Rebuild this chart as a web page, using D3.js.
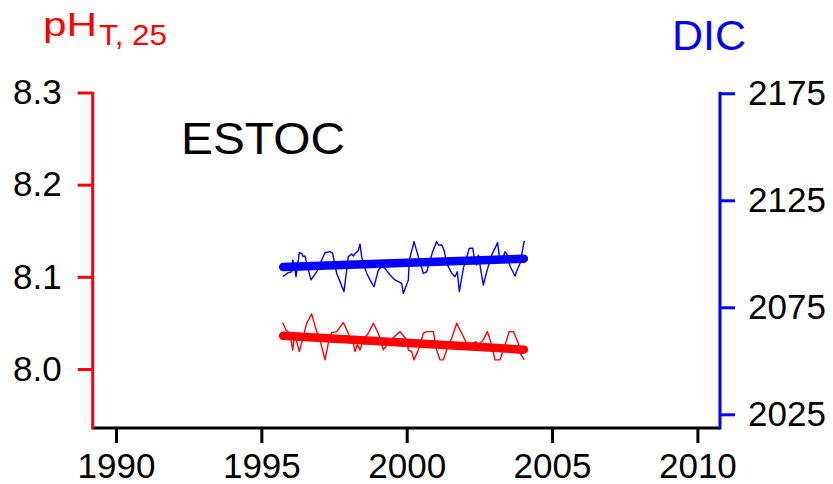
<!DOCTYPE html>
<html lang="en">
<head>
<meta charset="UTF-8">
<title>ESTOC pH and DIC</title>
<script src="https://d3js.org/d3.v7.min.js"></script>
<style>
    body { margin: 0; background: white; }
    svg { display: block; font-family: "Liberation Sans", Arial, Helvetica, sans-serif; }
</style>
</head>
<body>
<svg id="chart"></svg>
<script>
// x axis ticks and the two y axes
const yearTicks = [1990, 1995, 2000, 2005, 2010];
const phTicks = [8.0, 8.1, 8.2, 8.3];
const dicTicks = [2025, 2075, 2125, 2175];

// DIC series
const dicYears = [1995.733, 1995.814, 1995.928, 1996.043, 1996.077, 1996.123, 1996.192, 1996.307, 1996.387, 1996.444,
    1996.502, 1996.559, 1996.708, 1996.903, 1997.075, 1997.189, 1997.361, 1997.453, 1997.591, 1997.705,
    1997.843, 1997.992, 1998.107, 1998.164, 1998.256, 1998.336, 1998.393, 1998.451, 1998.508, 1998.623,
    1998.737, 1998.875, 1999.024, 1999.139, 1999.253, 1999.425, 1999.597, 1999.827, 1999.884, 2000.056,
    2000.091, 2000.251, 2000.400, 2000.572, 2000.687, 2000.893, 2001.031, 2001.088, 2001.203, 2001.283,
    2001.375, 2001.547, 2001.661, 2001.742, 2001.810, 2001.948, 2002.154, 2002.269, 2002.315, 2002.407,
    2002.464, 2002.636, 2002.751, 2002.923, 2003.129, 2003.187, 2003.267, 2003.381, 2003.462, 2003.553,
    2003.725, 2003.806, 2003.897, 2004.046];
const dicValues = [2089.3, 2090.1, 2091.2, 2091.6, 2097.1, 2095.5, 2089.3, 2100.5, 2100.2, 2098.7,
    2099.0, 2095.5, 2087.8, 2091.6, 2097.1, 2100.5, 2101.0, 2100.2, 2090.9, 2087.0,
    2082.3, 2098.7, 2099.9, 2099.0, 2100.5, 2101.5, 2104.6, 2098.7, 2095.5, 2090.9,
    2087.8, 2084.6, 2092.4, 2094.0, 2093.2, 2090.1, 2087.8, 2086.2, 2081.5, 2087.8,
    2097.1, 2105.7, 2098.7, 2090.9, 2091.6, 2101.0, 2105.7, 2104.1, 2104.1, 2101.8,
    2095.5, 2090.9, 2089.3, 2091.6, 2082.3, 2093.2, 2102.6, 2102.6, 2099.0, 2094.8,
    2099.4, 2085.4, 2091.6, 2099.4, 2105.2, 2098.7, 2096.3, 2101.0, 2099.4, 2094.3,
    2089.6, 2092.7, 2095.5, 2106.1];
const dicTrendYears = [1995.75, 2004.03];
const dicTrendValues = [2093.8, 2097.7];

// pH series
const phYears = [1995.733, 1995.848, 1995.986, 1996.077, 1996.157, 1996.215, 1996.307, 1996.444, 1996.559, 1996.731,
    1996.903, 1997.018, 1997.189, 1997.304, 1997.419, 1997.591, 1997.820, 1997.992, 1998.164, 1998.221,
    1998.302, 1998.393, 1998.508, 1998.680, 1998.852, 1999.024, 1999.196, 1999.334, 1999.517, 1999.769,
    1999.907, 1999.999, 2000.056, 2000.171, 2000.251, 2000.400, 2000.572, 2000.687, 2000.916, 2001.031,
    2001.145, 2001.260, 2001.375, 2001.547, 2001.719, 2001.891, 2002.063, 2002.292, 2002.384, 2002.464,
    2002.636, 2002.774, 2002.923, 2003.037, 2003.209, 2003.381, 2003.530, 2003.668, 2003.840, 2003.897,
    2004.046];
const phValues = [8.0504, 8.0424, 8.0388, 8.0207, 8.0388, 8.0298, 8.0189, 8.0352, 8.0496, 8.0598,
    8.0406, 8.0316, 8.0099, 8.0280, 8.0395, 8.0406, 8.0504, 8.0388, 8.0280, 8.0189,
    8.0262, 8.0207, 8.0316, 8.0388, 8.0496, 8.0388, 8.0207, 8.0262, 8.0334, 8.0406,
    8.0352, 8.0316, 8.0207, 8.0189, 8.0099, 8.0207, 8.0388, 8.0406, 8.0406, 8.0207,
    8.0099, 8.0099, 8.0207, 8.0334, 8.0496, 8.0388, 8.0280, 8.0280, 8.0298, 8.0262,
    8.0316, 8.0406, 8.0262, 8.0099, 8.0099, 8.0262, 8.0406, 8.0406, 8.0280, 8.0171,
    8.0099];
const phTrendYears = [1995.75, 2004.03];
const phTrendValues = [8.036, 8.021];

const width = 833, height = 484;
const plotLeft = 92.7, plotRight = 720, plotTop = 92, plotBottom = 428;

const svg = d3.select("#chart").attr("width", width).attr("height", height);

const x = d3.scaleLinear().domain([1990, 2010]).range([116, 697.4]);
const yPh = d3.scaleLinear().domain([8.0, 8.3]).range([369, 92.5]);
const yDic = d3.scaleLinear().domain([2025, 2175]).range([414.3, 93.3]);

// axes (ticks from d3, axis lines drawn separately so they meet at the corners)
function styleAxis(g, color) {
    g.select(".domain").remove();
    g.selectAll(".tick line").attr("stroke", color).attr("stroke-width", 3);
    g.selectAll(".tick text").attr("fill", "black").style("font-size", "35px");
}

svg.append("g")
    .attr("transform", `translate(0,${plotBottom})`)
    .call(d3.axisBottom(x).tickValues(yearTicks).tickFormat(d3.format("d")).tickSize(15).tickPadding(10))
    .call(g => styleAxis(g, "black"));

svg.append("g")
    .attr("transform", `translate(${plotLeft},0)`)
    .call(d3.axisLeft(yPh).tickValues(phTicks).tickFormat(d3.format(".1f")).tickSize(15).tickPadding(16))
    .call(g => styleAxis(g, "red"));

svg.append("g")
    .attr("transform", `translate(${plotRight},0)`)
    .call(d3.axisRight(yDic).tickValues(dicTicks).tickFormat(d3.format("d")).tickSize(15).tickPadding(13))
    .call(g => styleAxis(g, "blue"));

svg.append("line").attr("x1", plotLeft).attr("x2", plotRight).attr("y1", plotBottom).attr("y2", plotBottom)
    .attr("stroke", "black").attr("stroke-width", 3);
svg.append("line").attr("x1", plotLeft).attr("x2", plotLeft).attr("y1", plotTop).attr("y2", plotBottom + 1.5)
    .attr("stroke", "red").attr("stroke-width", 3);
svg.append("line").attr("x1", plotRight).attr("x2", plotRight).attr("y1", yDic(2175) - 1.5).attr("y2", plotBottom + 1.5)
    .attr("stroke", "blue").attr("stroke-width", 3);

// series
const dicLine = d3.line().x(d => x(d[0])).y(d => yDic(d[1]));
const phLine = d3.line().x(d => x(d[0])).y(d => yPh(d[1]));

svg.append("path")
    .datum(dicYears.map((t, i) => [t, dicValues[i]]))
    .attr("d", dicLine)
    .attr("fill", "none").attr("stroke", "blue").attr("stroke-width", 1.4).attr("stroke-linejoin", "round");

svg.append("path")
    .datum(phYears.map((t, i) => [t, phValues[i]]))
    .attr("d", phLine)
    .attr("fill", "none").attr("stroke", "red").attr("stroke-width", 1.4).attr("stroke-linejoin", "round");

svg.append("path")
    .datum(dicTrendYears.map((t, i) => [t, dicTrendValues[i]]))
    .attr("d", dicLine)
    .attr("fill", "none").attr("stroke", "blue").attr("stroke-width", 8.5).attr("stroke-linecap", "round");

svg.append("path")
    .datum(phTrendYears.map((t, i) => [t, phTrendValues[i]]))
    .attr("d", phLine)
    .attr("fill", "none").attr("stroke", "red").attr("stroke-width", 8.5).attr("stroke-linecap", "round");

// titles
svg.append("text").attr("x", 43).attr("y", 36).attr("fill", "red").style("font-size", "34px")
    .attr("textLength", 54).attr("lengthAdjust", "spacingAndGlyphs").text("pH");
svg.append("text").attr("x", 99).attr("y", 45).attr("fill", "red").style("font-size", "30px")
    .attr("textLength", 68).attr("lengthAdjust", "spacingAndGlyphs").text("T, 25");

svg.append("text").attr("x", 672).attr("y", 50).attr("fill", "blue").style("font-size", "43px").text("DIC");

svg.append("text").attr("x", 181).attr("y", 154).attr("fill", "black").style("font-size", "45px")
    .attr("textLength", 164).attr("lengthAdjust", "spacingAndGlyphs").text("ESTOC");
</script>
</body>
</html>
